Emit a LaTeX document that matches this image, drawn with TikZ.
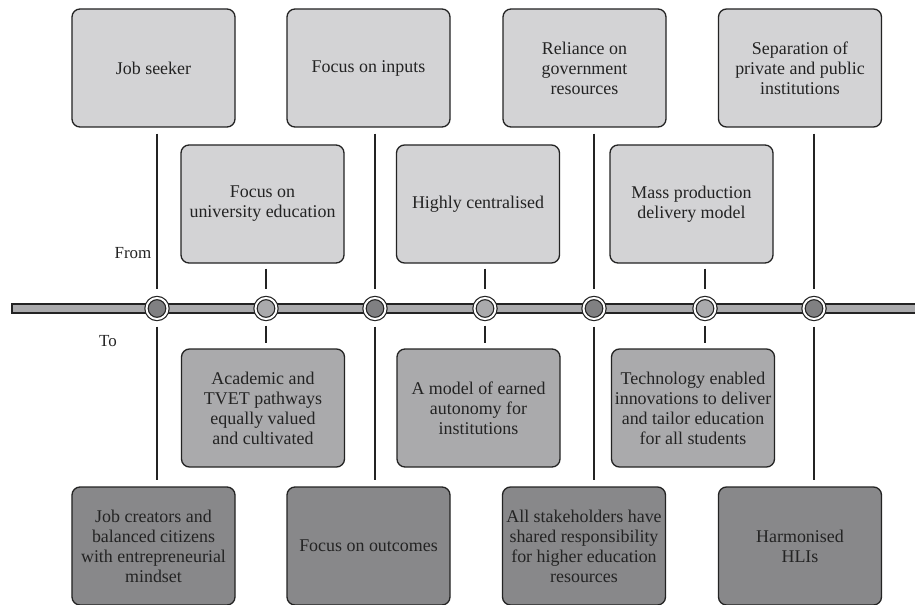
\documentclass[tikz,border=0pt]{standalone}
\usepackage{fontspec}
\setmainfont{Liberation Serif}
\definecolor{topfill}{RGB}{211,211,213}
\definecolor{midfill}{RGB}{170,170,172}
\definecolor{botfill}{RGB}{136,136,138}
\definecolor{darkdot}{RGB}{128,128,130}
\definecolor{ink}{RGB}{35,35,35}
\tikzset{
  box/.style={draw=ink, line width=1.3bp, rounded corners=8bp, minimum width=163bp,
    minimum height=118bp, align=center, text=ink, inner sep=1bp,
    font=\fontsize{18}{20}\selectfont},
  topbox/.style={box, fill=topfill},
  midbox/.style={box, fill=midfill},
  botbox/.style={box, fill=botfill},
  dot/.style={circle, draw=ink, line width=1.2bp, double=white, double distance=2bp,
    minimum size=21bp, inner sep=0pt},
  darkdotst/.style={dot, fill=darkdot},
  lightdot/.style={dot, fill=midfill},
  conn/.style={draw=ink, line width=2.8bp},
  lbl/.style={text=ink, font=\fontsize{17}{20}\selectfont},
}
\begin{document}
\begin{tikzpicture}[x=1bp, y=-1bp]
\useasboundingbox (0,0) rectangle (915,605);
% timeline bar
\draw[draw=ink, line width=1.3bp, fill=midfill] (12,304) rectangle (918,313);
% circles
\node[darkdotst] (c1) at (157,308.5) {};
\node[lightdot]  (c2) at (266,308.5) {};
\node[darkdotst] (c3) at (375,308.5) {};
\node[lightdot]  (c4) at (485,308.5) {};
\node[darkdotst] (c5) at (594,308.5) {};
\node[lightdot]  (c6) at (705,308.5) {};
\node[darkdotst] (c7) at (814,308.5) {};
% top boxes
\node[topbox] (t1) at (153.5,68) {Job seeker};
\node[topbox] (t2) at (368.5,68) {Focus on inputs};
\node[topbox] (t3) at (584.5,68) {Reliance on\\government\\resources};
\node[topbox] (t4) at (800,68) {Separation of\\private and public\\institutions};
% mid top boxes
\node[topbox] (m1) at (262.5,204) {Focus on\\university education};
\node[topbox] (m2) at (478,204) {Highly centralised};
\node[topbox] (m3) at (691.5,204) {Mass production\\delivery model};
% mid bottom boxes
\node[midbox] (n1) at (263,408) {Academic and\\TVET pathways\\equally valued\\and cultivated};
\node[midbox] (n2) at (478.5,408) {A model of earned\\autonomy for\\institutions};
\node[midbox] (n3) at (693,408) {Technology enabled\\innovations to deliver\\and tailor education\\for all students};
% bottom boxes
\node[botbox] (b1) at (153.5,546) {Job creators and\\balanced citizens\\with entrepreneurial\\mindset};
\node[botbox] (b2) at (368.5,546) {Focus on outcomes};
\node[botbox] (b3) at (584,546) {All stakeholders have\\shared responsibility\\for higher education\\resources};
\node[botbox] (b4) at (800,546) {Harmonised\\HLIs};
% labels
\node[lbl] (from) at (133,253) {From};
\node[lbl] (to) at (108,341) {To};
% long connectors
\foreach \t/\c/\b in {t1/c1/b1, t2/c3/b2, t3/c5/b3, t4/c7/b4}{
  \draw[conn, shorten <=6bp, shorten >=8bp] (\c |- \t.south) -- (\c.north);
  \draw[conn, shorten <=7bp, shorten >=6bp] (\c.south) -- (\c |- \b.north);
}
% short stubs
\foreach \m/\c/\n in {m1/c2/n1, m2/c4/n2, m3/c6/n3}{
  \draw[conn, shorten <=5bp, shorten >=8bp] (\c |- \m.south) -- (\c.north);
  \draw[conn, shorten <=6bp, shorten >=5bp] (\c.south) -- (\c |- \n.north);
}
\end{tikzpicture}
\end{document}
